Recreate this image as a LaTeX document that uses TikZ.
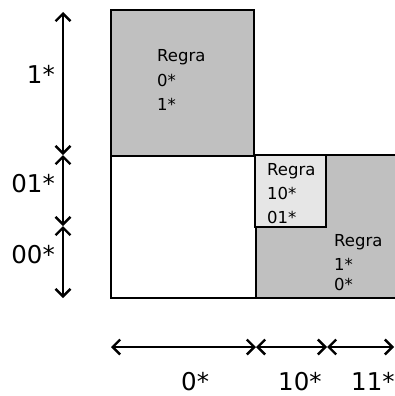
\documentclass[tikz,border=0pt]{standalone}
\usepackage{fontspec}
\setmainfont{DejaVu Sans}
\usetikzlibrary{arrows.meta}
\definecolor{regiongray}{HTML}{C0C0C0}
\definecolor{rulegray}{HTML}{E6E6E6}
\tikzset{
  region/.style={draw=black, line width=2.6pt},
  span/.style={line width=2.6pt, {Straight Barb[length=7.5pt,width=15pt,line width=2.4pt]}-{Straight Barb[length=7.5pt,width=15pt,line width=2.4pt]}},
  biglabel/.style={font=\fontsize{24.5}{28}\selectfont, inner sep=0pt},
  rulelabel/.style={font=\fontsize{16.5}{19}\selectfont, inner sep=0pt, anchor=base west},
}
\begin{document}
\begin{tikzpicture}[x=1pt, y=-1pt]
  \useasboundingbox (0,0) rectangle (394,396);

  % regions of the partition
  \fill[regiongray] (256,155) rectangle (400,298);
  \draw[region] (256,155) -- (400,155);
  \draw[region] (256,155) -- (256,298);
  \draw[region, fill=white] (111,156) rectangle (256,298);
  \draw[region, fill=regiongray] (111,10) rectangle (254,156);
  \draw[region, fill=rulegray] (255,155) rectangle (326,227);
  \draw[region] (111,298) -- (400,298);

  % rule texts
  \node[rulelabel] (ra1) at (157,62) {Regra};
  \node[rulelabel] (ra2) at (157,86) {0*};
  \node[rulelabel] (ra3) at (157,110) {1*};
  \node[rulelabel] (rb1) at (267,175) {Regra};
  \node[rulelabel] (rb2) at (267,199) {10*};
  \node[rulelabel] (rb3) at (267,223) {01*};
  \node[rulelabel] (rc1) at (334,246) {Regra};
  \node[rulelabel] (rc2) at (334,270) {1*};
  \node[rulelabel] (rc3) at (334,290) {0*};

  % vertical extents
  \coordinate (v0) at (63,12);
  \coordinate (v1) at (63,155);
  \coordinate (v2) at (63,226);
  \coordinate (v3) at (63,298);
  \draw[span] (v0) -- (v1);
  \draw[span] (v1) -- (v2);
  \draw[span] (v2) -- (v3);
  \node[biglabel, anchor=base east] (l1) at (55,83) {1*};
  \node[biglabel, anchor=base east] (l2) at (55,192) {01*};
  \node[biglabel, anchor=base east] (l3) at (55,263) {00*};

  % horizontal extents
  \coordinate (h0) at (111,347);
  \coordinate (h1) at (256,347);
  \coordinate (h2) at (327,347);
  \coordinate (h3) at (394,347);
  \draw[span] (h0) -- (h1);
  \draw[span] (h1) -- (h2);
  \draw[span] (h2) -- (h3);
  \node[biglabel, anchor=base west] (b1) at (181,390) {0*};
  \node[biglabel, anchor=base west] (b2) at (278,390) {10*};
  \node[biglabel, anchor=base west] (b3) at (351,390) {11*};
\end{tikzpicture}
\end{document}
